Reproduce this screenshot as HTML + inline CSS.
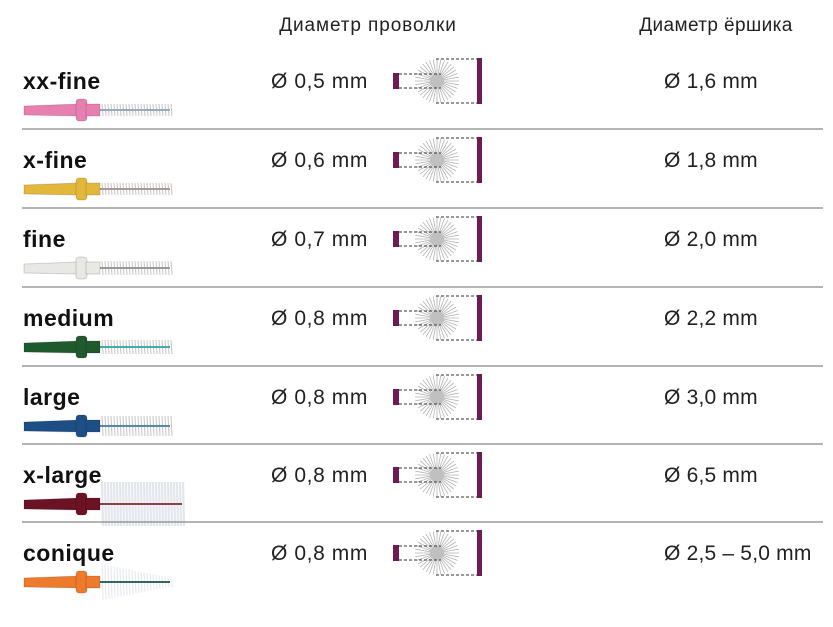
<!DOCTYPE html>
<html><head><meta charset="utf-8"><style>
body{margin:0;background:#fff;width:833px;height:627px;overflow:hidden;font-family:"Liberation Sans","DejaVu Sans",sans-serif}
svg{position:absolute;left:0;top:0}
</style></head><body>
<svg id="s" width="833" height="627">
<text x="368" y="31" font-size="19" letter-spacing="0.9" text-anchor="middle" fill="#222">Диаметр проволки</text>
<text x="716" y="31" font-size="19" letter-spacing="0.4" text-anchor="middle" fill="#222">Диаметр ёршика</text>
</svg>
<script>
const names=["xx-fine","x-fine","fine","medium","large","x-large","conique"];
const wire=["Ø 0,5 mm","Ø 0,6 mm","Ø 0,7 mm","Ø 0,8 mm","Ø 0,8 mm","Ø 0,8 mm","Ø 0,8 mm"];
const brush=["Ø 1,6 mm","Ø 1,8 mm","Ø 2,0 mm","Ø 2,2 mm","Ø 3,0 mm","Ø 6,5 mm","Ø 2,5 – 5,0 mm"];
const colors=["#e77fb0","#e3b83a","#e8e8e4","#1f5a2e","#1d4f86","#6b1224","#ee7a2c"];
const ys=[81,160,239,318,397,475,553];
const bh=[6,6,7,7,10,22,18];
const wireCol=["#9ab","#a99","#999","#4aa","#58a","#844","#366"];
const s=document.getElementById('s');const NS='http://www.w3.org/2000/svg';
function mk(t,a,p){const e=document.createElementNS(NS,t);for(const k in a)e.setAttribute(k,a[k]);(p||s).appendChild(e);return e;}
for(let i=0;i<names.length;i++){
 const y=ys[i];
 const g=mk('g',{});
 
 
 if(i>0){const l=mk('line',{x1:22,x2:823,y1:y-31,y2:y-31,stroke:'#888','stroke-width':1.3},g);
  }
 const t=mk('text',{x:23,y:y+8,'font-size':23,'letter-spacing':0.5,'font-weight':'bold',fill:'#111'},g);t.textContent=names[i];
 
 const w=mk('text',{x:271,y:y+7,'font-size':21,'letter-spacing':0.6,fill:'#222'},g);w.textContent=wire[i];
 
 const b=mk('text',{x:664,y:y+7,'font-size':21,'letter-spacing':0.2,fill:'#222'},g);b.textContent=brush[i];
 
 const by=y+29,c=colors[i];
 const br=mk('g',{},g);
 
 const h=bh[i];
 for(let x=102;x<(i==5?185:172);x+=3){const hh=i==6?Math.max(5,h-(x-102)*0.2):h;
  mk('line',{x1:x,x2:x+1,y1:by-hh,y2:by+hh,stroke:i==5||i==6?'#e4e6ee':'#c4c4c4','stroke-width':i==5?2.2:1},br);}
 mk('line',{x1:98,x2:(i==5?182:170),y1:by,y2:by,stroke:wireCol[i],'stroke-width':2},br);
 mk('path',{d:`M24 ${by-4}L78 ${by-6}L78 ${by+6}L24 ${by+5}Z`,fill:c,stroke:'rgba(0,0,0,.15)'},br);
 mk('rect',{x:76,y:by-11,width:11,height:22,rx:3,fill:c,stroke:'rgba(0,0,0,.15)'},br);
 mk('rect',{x:86,y:by-6,width:14,height:12,fill:c,stroke:'rgba(0,0,0,.15)'},br);
 const d=mk('g',{},g);
 
 const cx=437;
 for(let a=0;a<36;a++){const an=a*Math.PI/18;mk('line',{x1:cx,y1:y,x2:cx+22*Math.cos(an),y2:y+22*Math.sin(an),stroke:'#b4b4b4','stroke-width':0.8},d);}
 mk('circle',{cx:cx,cy:y,r:7,fill:'#c0c0c0'},d);
 mk('rect',{x:393,y:y-8,width:6,height:16,fill:'#6e1a57'},d);
 mk('rect',{x:477,y:y-23,width:5,height:46,fill:'#6e1a57'},d);
 for(const yy of [y-7,y+7])mk('line',{x1:399,x2:441,y1:yy,y2:yy,stroke:'#333','stroke-width':1,'stroke-dasharray':'3 2'},d);
 for(const yy of [y-22,y+22])mk('line',{x1:436,x2:477,y1:yy,y2:yy,stroke:'#333','stroke-width':1,'stroke-dasharray':'3 2'},d);
}
</script>
</body></html>
